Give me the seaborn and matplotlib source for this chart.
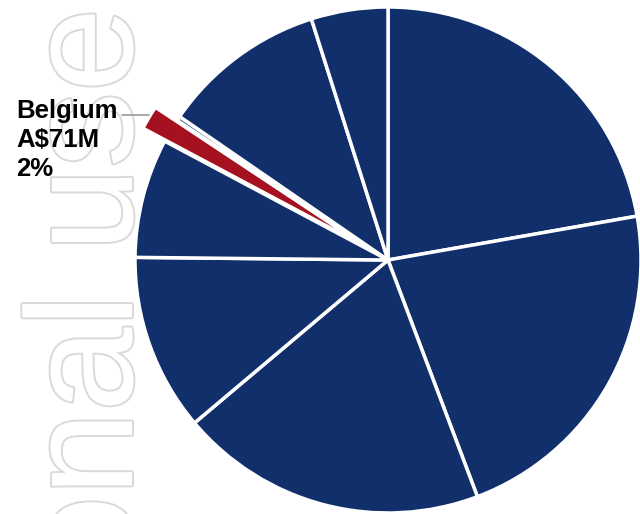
import matplotlib
matplotlib.use("Agg")
import matplotlib.pyplot as plt
import seaborn as sns
import numpy as np
from matplotlib import patheffects as pe
from matplotlib.lines import Line2D

# ---- data (A$ millions) ----
countries = ["Market A", "Market B", "Market C", "Market D", "Market E",
             "Belgium", "Market F", "Market G", "Market H"]
values_aud_m = [1030, 1021, 909, 524, 353, 71, 13, 487, 227]
highlight = "Belgium"
highlight_label = ["Belgium", "A$71M", "2%"]
watermark_text = "personal use"

sns.set_theme(style="white")
plt.rcParams['font.family'] = ['Liberation Sans', 'DejaVu Sans']

W, H = 640, 514
fig = plt.figure(figsize=(W / 100, H / 100), dpi=100)
fig.patch.set_facecolor('white')

# watermark (outlined, rotated)
fig.text(132 / W, 1 - 8 / H, watermark_text, rotation=90, rotation_mode='anchor',
         ha='right', va='baseline', fontsize=109, family='Liberation Sans',
         color='white', zorder=0,
         path_effects=[pe.withStroke(linewidth=2.8, foreground='#d9d9d9')])

cx, cy, R = 388, 260, 253
ax = fig.add_axes([(cx - R) / W, (H - cy - R) / H, 2 * R / W, 2 * R / H])
ax.set_zorder(1)
ax.patch.set_alpha(0)

navy = '#11306B'
red = '#A5111F'
colors = [red if c == highlight else navy for c in countries]
explode = [0.1 if c == highlight else 0 for c in countries]
wedges, _ = ax.pie(values_aud_m, colors=colors, explode=explode, startangle=90,
                   counterclock=False,
                   wedgeprops=dict(edgecolor='white', linewidth=2.5))
ax.set_xlim(-1, 1)
ax.set_ylim(-1, 1)
for w in wedges:
    w.set_clip_on(False)

# label with connector
b = countries.index(highlight)
w = wedges[b]
tm = np.deg2rad((w.theta1 + w.theta2) / 2)
px, py = w.center[0] + w.r * np.cos(tm), w.center[1] + w.r * np.sin(tm)
Pd = ax.transData.transform((px, py))
Pd[1] += 3
fx, fy = Pd[0] / W, Pd[1] / H
line = Line2D([122 / W, fx], [fy, fy], transform=fig.transFigure,
              color='#9a9a9a', linewidth=1.2, zorder=2)
fig.add_artist(line)
line_gap = 31  # px between label baselines
fig.text(16 / W, (Pd[1] + 1 - 2 * line_gap) / H, "\n".join(highlight_label),
         ha='left', va='baseline', fontsize=18.5, fontweight='bold',
         color='black', linespacing=1.255, family='Liberation Sans', zorder=3)

fig.savefig('out.png', dpi=100)
